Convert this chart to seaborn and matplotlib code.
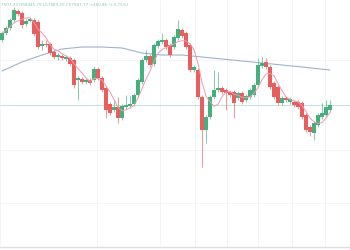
import numpy as np
import pandas as pd
import matplotlib
matplotlib.use("Agg")
import matplotlib.pyplot as plt
import seaborn as sns

# ---- data ----
opens = [58600,58670,58720,58800,58890,58870,58760,58790,58800,58780,58540,58560,58560,58480,58430,58440,58410,58420,58400,58200,
         58210,58180,58200,58200,58310,58220,58120,57960,57900,57930,57820,57930,57940,57960,58050,58180,58400,58440,58360,58540,
         58580,58600,58550,58530,58620,58700,58670,58550,58300,58300,58030,57700,57830,58030,58100,58120,58100,58080,58080,58020,
         58070,58000,58030,58050,58150,58340,58380,58330,58170,58130,57970,58020,57980,57980,57980,57970,57850,57730,57670,57750,
         57830,57850,57900]
closes = [58670,58720,58800,58900,58860,58750,58790,58810,58660,58530,58560,58550,58470,58430,58450,58420,58430,58360,58150,58220,
          58180,58200,58170,58310,58220,58100,57900,57870,57930,57820,57940,57950,57960,58050,58200,58400,58440,58350,58550,58590,
          58600,58530,58450,58630,58710,58640,58530,58300,58330,58030,57700,57830,58030,58100,58120,58080,58070,58050,57970,58070,
          57980,58040,58100,58150,58350,58370,58330,58130,58030,57970,58020,58000,58010,57950,57930,57830,57700,57680,57770,57850,
          57870,57930,57950]
highs = [58690,58740,58820,58930,58910,58890,58810,58830,58820,58800,58600,58600,58580,58500,58470,58460,58450,58440,58420,58240,
         58230,58220,58220,58340,58330,58240,58140,57980,58000,58030,57960,58050,58040,58070,58220,58420,58500,58460,58570,58610,
         58670,58620,58570,58650,58800,58720,58690,58570,58350,58320,58050,57850,58050,58300,58280,58140,58120,58100,58100,58090,
         58090,58060,58120,58170,58420,58430,58420,58350,58190,58150,58040,58040,58030,58000,58000,57990,57870,57750,57790,57870,
         57970,58000,58000]
lows = [58580,58650,58700,58780,58840,58720,58740,58780,58640,58510,58500,58530,58450,58410,58400,58400,58390,58340,58120,58000,
        58160,58160,58150,58180,58200,58080,57820,57850,57880,57770,57800,57910,57920,57940,58030,58160,58380,58330,58340,58520,
        58560,58510,58430,58510,58600,58620,58510,58280,58280,58010,57330,57570,57810,58010,58080,58060,57900,58030,57820,58000,
        57960,57980,58010,58030,58130,58320,58310,58110,58010,57950,57950,57980,57960,57930,57910,57810,57680,57640,57600,57730,
        57810,57830,57880]
long_ma_idx = [0,5,10,15,20,25,30,35,40,45,50,55,60,65,70,75,82]
long_ma_val = [58290,58380,58450,58510,58530,58530,58520,58470,58450,58450,58430,58410,58390,58370,58350,58330,58300]
last_price = 57947.77
header = "7507.23 H58445.79 L57489.25 C57947.77 +450.86 (+0.75%)"

# ---- figure ----
sns.set_style("white")
W, H = 350, 250
fig = plt.figure(figsize=(W/100, H/100), dpi=100)
ax = fig.add_axes([0, 3/H, 1, 247/H])

df = pd.DataFrame({"i": np.arange(len(opens)), "open": opens, "close": closes,
                   "high": highs, "low": lows})
up = df["close"] >= df["open"]
GREEN, RED = "#45b07e", "#e85e5e"
colors = np.where(up, GREEN, RED)

# faint grid
for xv in [-0.5, 23.75, 39.5, 48.25, 56.25, 64, 72.5, 80.75]:
    ax.axvline(xv, color="#f2f2f2", lw=0.6, zorder=0)
for yv in [58400, 57500, 56970]:
    ax.axhline(yv, color="#f4f4f4", lw=0.6, zorder=0)

# long MA
sns.lineplot(x=long_ma_idx, y=long_ma_val, ax=ax, color="#9db3cc", lw=0.8, zorder=2)

# price line
ax.axhline(last_price, color="#bfe3e3", lw=0.7, zorder=1)

# wicks + bodies
ax.vlines(df["i"], df["low"], df["high"], colors=colors, lw=0.6, alpha=0.75, zorder=3)
bottoms = np.minimum(df["open"], df["close"])
heights = np.maximum(np.abs(df["close"] - df["open"]), 15)
ax.bar(df["i"], heights, bottom=bottoms, width=0.8, color=colors, linewidth=0, zorder=4)

# short MA
ma = df["close"].rolling(5, min_periods=1).mean()
sns.lineplot(x=df["i"], y=ma, ax=ax, color="#f09aab", lw=0.7, zorder=5)

ax.set_xlim(-0.5, 87)
ax.set_ylim(56530, 59000)
ax.set_xticks([]); ax.set_yticks([])
ax.set_xlabel(""); ax.set_ylabel("")
for s in ["top", "left", "right"]:
    ax.spines[s].set_visible(False)
ax.spines["bottom"].set_color("#dedede")
ax.spines["bottom"].set_linewidth(1.0)

fig.text(1/W, 1 - 5/H, header, fontsize=3.0, color="#86c9a8", va="center", ha="left")

fig.savefig("out.png", dpi=100)
